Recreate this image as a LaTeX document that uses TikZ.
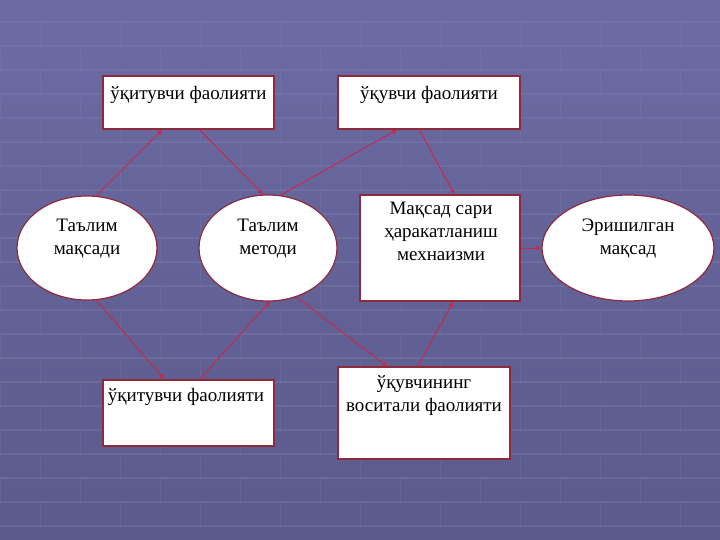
\documentclass[tikz,border=0pt]{standalone}
\usepackage{fontspec}
\setmainfont{Liberation Serif}
\usetikzlibrary{calc,arrows.meta,shapes.geometric}
\definecolor{bgtop}{HTML}{6C6BA4}
\definecolor{bgbot}{HTML}{5A5A8B}
\definecolor{gridc}{HTML}{8C8CBA}
\definecolor{edgec}{HTML}{8E2A3C}
\definecolor{linkc}{HTML}{C8284A}
\tikzset{
  box/.style={draw=edgec, line width=1.2pt, fill=white, rectangle, inner sep=0pt},
  oval/.style={draw=edgec, line width=1.2pt, fill=white, ellipse, inner sep=0pt},
  lbl/.style={font=\fontsize{19}{23}\selectfont, align=center, inner sep=0pt, text=black},
  link/.style={draw=linkc, line width=1pt, -{Latex[length=5pt,width=5pt]}},
}
\begin{document}
\begin{tikzpicture}[x=1pt,y=-1pt]
\useasboundingbox (0,0) rectangle (720,540);
% background
\shade[top color=bgtop, bottom color=bgbot] (0,0) rectangle (720,540);
\foreach \y in {22,46,70,94,118,142,166,190,214,238,262,286,310,334,358,382,406,430,454,478,502,526}
  \draw[gridc, opacity=0.25, line width=1.5pt] (0,\y) -- (720,\y);
\foreach \y [count=\i] in {22,46,70,94,118,142,166,190,214,238,262,286,310,334,358,382,406,430,454,478,502}{
  \pgfmathsetmacro{\off}{mod(\i,2)*40}
  \foreach \x in {0,80,...,720}
    \draw[gridc, opacity=0.18, line width=1pt] (\x+\off,\y) -- (\x+\off,\y+24);
}
% nodes
\node[box, minimum width=171pt, minimum height=53pt] (b1) at (188.5,102.5) {};
\node[box, minimum width=182pt, minimum height=53pt] (b2) at (429,102.5) {};
\node[oval, minimum width=140pt, minimum height=104pt] (e1) at (87,248) {};
\node[oval, minimum width=138pt, minimum height=106pt] (e2) at (268,248) {};
\node[box, minimum width=160pt, minimum height=106pt] (b5) at (440,248) {};
\node[oval, minimum width=172pt, minimum height=106pt] (e3) at (628,248) {};
\node[box, minimum width=171pt, minimum height=66pt] (b3) at (188.5,413) {};
\node[box, minimum width=172pt, minimum height=92pt] (b4) at (424,413) {};
% texts
\node[lbl, anchor=north] (t1) at (188.5,86) {ўқитувчи фаолияти};
\node[lbl, anchor=north] (t2) at (429,86) {ўқувчи фаолияти};
\node[lbl] (t3) at (87,239) {Таълим\\мақсади};
\node[lbl] (t4) at (268,239) {Таълим\\методи};
\node[lbl, anchor=north] (t5) at (441,202) {Мақсад сари\\ҳаракатланиш\\мехнаизми};
\node[lbl] (t6) at (628,239) {Эришилган\\мақсад};
\node[lbl, anchor=north] (t7) at (186,388) {ўқитувчи фаолияти};
\node[lbl, anchor=north] (t8) at (424,375) {ўқувчининг\\воситали фаолияти};
% links
\draw[link] (e1.80) -- ($(b1.south west)+(60,0)$);
\draw[link] ($(b1.south west)+(97,0)$) -- (e2.95);
\draw[link] (e2.77) -- ($(b2.south west)+(60,0)$);
\draw[link] ($(b2.south west)+(82,0)$) -- ($(b5.north west)+(95,0)$);
\draw[link] (b5.east) -- (e3.west);
\draw[link] (e1.-80) -- ($(b3.north west)+(62,0)$);
\draw[link] ($(b3.north west)+(97,0)$) -- (e2.-88);
\draw[link] (e2.-60) -- ($(b4.north west)+(50,0)$);
\draw[link] ($(b4.north west)+(80,0)$) -- ($(b5.south west)+(94,0)$);
\end{tikzpicture}
\end{document}
